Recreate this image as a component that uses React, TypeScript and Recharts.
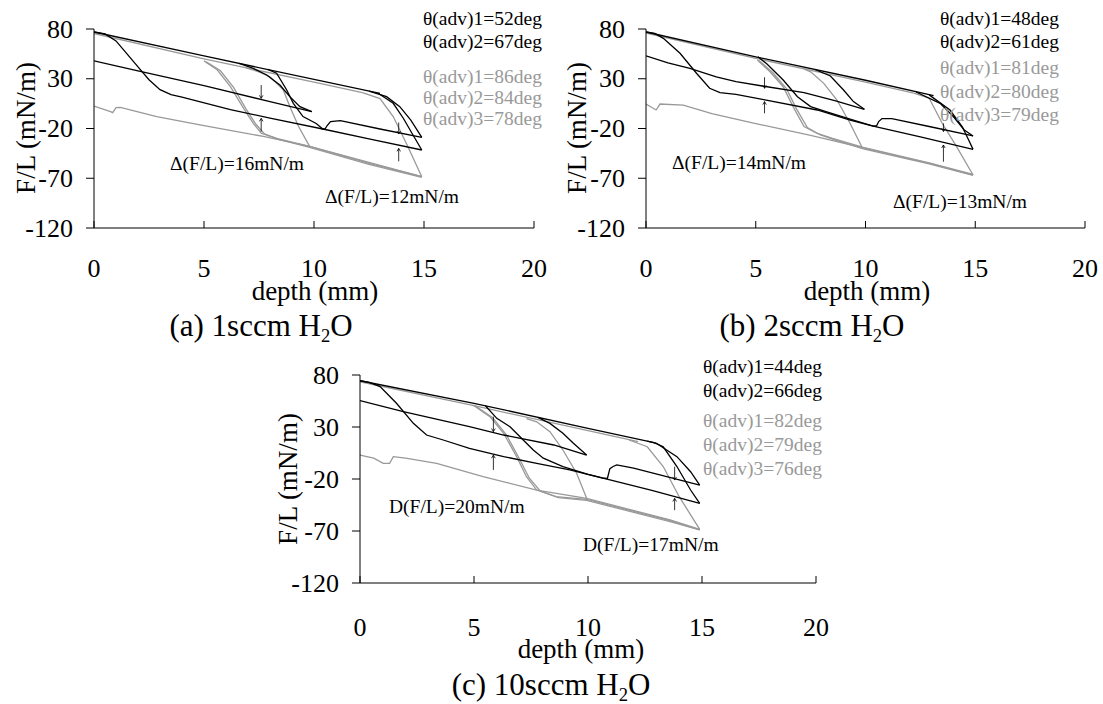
import React from 'react';
import { LineChart, Line, XAxis, YAxis, ReferenceLine } from 'recharts';

type P = [number, number];

const FONT = "'Liberation Serif', 'Times New Roman', Times, serif";
const BLACK = '#000000';
const GRAY = '#999999';

const xTicks = [0, 5, 10, 15, 20];
const yTicks = [80, 30, -20, -70, -120];

// ---------------- panel (a) 1sccm ----------------
const aBlackRec: P[] = [[0, 77], [5, 53], [10, 29.3], [13, 15.3]];
const aBlackAdv1: P[] = [[0, 48], [2, 38], [5, 23], [8, 7], [9.9, -3]];
const aBlackHair1: P[] = [[6.6, 45.5], [7.24, 40.5], [7.85, 33.8], [8.45, 23.7], [8.9, 12], [9.36, 2], [9.9, -3]];
const aBlackCycle2: P[] = [[0, 77], [0.5, 75], [1.0, 68], [1.5, 55], [2.0, 42], [2.5, 29], [3.0, 19], [3.5, 14], [4.0, 11.5], [6.2, -1], [8, -9.5], [10.4, -20.5], [12.5, -30.5], [14.9, -41.6]];
const aBlackJump: P[] = [[10.35, -20.3], [10.5, -20.5], [10.6, -17], [10.75, -13], [11.2, -12], [13, -20.5], [14.9, -29]];
const aBlackCurve2: P[] = [[7.9, 39.5], [8.3, 35.5], [8.76, 18.7], [9.06, 5.3], [9.5, -8], [10.1, -15], [10.4, -20.5]];
const aBlackHair2: P[] = [[12.5, 17.6], [13.3, 12], [13.9, 2], [14.4, -11.5], [14.9, -29]];
const aBlackHair3: P[] = [[12.9, 15.7], [13.6, 5.3], [14.06, -9.7], [14.5, -26.5], [14.9, -41.6]];
const aGrayRec: P[] = [[0, 75.5], [5, 50], [10, 26.5], [12.2, 16]];
const aGrayAdv1: P[] = [[0, 2.5], [0.75, -3], [0.85, -4], [1.0, 1], [1.2, 1.2], [2.85, -8], [5, -17], [7.7, -28], [9.8, -38], [12.5, -54], [14.9, -68.4]];
const aGrayHair1: P[] = [[6.9, 41], [7.5, 37], [8, 32], [8.6, 19], [8.9, 2], [9.3, -18], [9.8, -38]];
const aGrayTrans1: P[] = [[5, 48], [5.6, 39], [6.2, 22], [6.8, 0.3], [7.24, -14.8], [7.6, -24.8], [8.3, -30], [9.8, -38], [12.5, -55], [14.9, -68.4]];
const aGrayTrans2: P[] = [[5.1, 47], [5.75, 38], [6.35, 21], [6.9, 0], [7.35, -15.5], [7.75, -25.5], [8.4, -31], [9.8, -39], [12.5, -56], [14.9, -69]];
const aGrayHair2: P[] = [[12.2, 16], [13, 10], [13.6, -8], [14.2, -35], [14.9, -68.4]];
const aArrows: [number, number, number][] = [[7.6, 23.7, 10.3], [7.6, -23, -9.8], [13.85, -14, -25.5], [13.85, -53, -40]];
const aAngles = ['θ(adv)1=52deg', 'θ(adv)2=67deg', 'θ(adv)1=86deg', 'θ(adv)2=84deg', 'θ(adv)3=78deg'];
const aDeltas = ['Δ(F/L)=16mN/m', 'Δ(F/L)=12mN/m'];

// ---------------- panel (b) 2sccm ----------------
const bBlackRec: P[] = [[0, 77], [5, 52], [10, 28.5], [13.1, 13]];
const bBlackAdv1: P[] = [[0, 53], [1, 46], [2, 40.5], [3.2, 32], [4.1, 27], [5.3, 22.7], [7.2, 16], [8.6, 8], [9.95, -0.7]];
const bBlackHair1: P[] = [[7.7, 39.3], [8.4, 32.8], [9, 18.7], [9.45, 7], [9.95, -0.7]];
const bBlackCycle2: P[] = [[0, 77], [0.4, 75.5], [0.79, 70.6], [1.55, 55.6], [2.3, 35.5], [2.9, 20.4], [3.37, 16], [4.1, 14.3], [5.3, 9.3], [7.8, -1.4], [9.3, -11.5], [10.35, -17.5], [12.5, -28.5], [14.9, -41]];
const bBlackJump: P[] = [[10.35, -17.5], [10.5, -17.5], [10.6, -13], [10.75, -10], [11.2, -10], [12.9, -18], [14.9, -27.5]];
const bBlackCurve2: P[] = [[5.1, 52], [5.5, 45], [6.25, 28.7], [6.9, 12], [7.5, 2], [8.2, -3], [9.3, -10.5], [10.35, -17.5]];
const bBlackHair2: P[] = [[12.3, 16.7], [13.4, 5.3], [14, -8], [14.5, -21.5], [14.9, -27.5]];
const bBlackHair3: P[] = [[12.9, 13.8], [13.85, -1.4], [14.4, -18], [14.7, -31.5], [14.9, -41]];
const bGrayRec: P[] = [[0, 76], [5, 50.5], [10, 26.5], [12.2, 15.5]];
const bGrayAdv1: P[] = [[0, 4.6], [0.46, -1.4], [0.64, 4.6], [1.7, 3.5], [3, -5], [5, -15], [7.5, -27], [9.9, -39.5], [12.9, -55], [14.9, -66.7]];
const bGrayHair1: P[] = [[7.2, 40], [7.5, 37], [8.1, 25.4], [8.7, 8.6], [9.3, -15], [9.83, -38.3]];
const bGrayTrans1: P[] = [[5.07, 48.8], [5.65, 37], [6.25, 22], [6.7, 2], [7.2, -18], [7.8, -25], [8.5, -30], [9.9, -39], [12.9, -54.5], [14.9, -66]];
const bGrayTrans2: P[] = [[5.15, 48.4], [5.78, 36], [6.4, 20], [6.85, 0], [7.35, -19], [7.95, -26.5], [8.6, -31.5], [9.9, -40.5], [12.9, -55.5], [14.9, -67]];
const bGrayHair2: P[] = [[12.2, 15.5], [12.9, 10.4], [13.5, -15], [14.15, -38.3], [14.9, -66.7]];
const bArrows: [number, number, number][] = [[5.4, 31.5, 20.4], [5.4, -4.7, 7], [13.55, -14.8, -23], [13.55, -53.4, -36.6]];
const bAngles = ['θ(adv)1=48deg', 'θ(adv)2=61deg', 'θ(adv)1=81deg', 'θ(adv)2=80deg', 'θ(adv)3=79deg'];
const bDeltas = ['Δ(F/L)=14mN/m', 'Δ(F/L)=13mN/m'];

// ---------------- panel (c) 10sccm ----------------
const cBlackRec: P[] = [[0, 74.5], [5, 52.8], [10, 28.7], [12.9, 15]];
const cBlackAdv1: P[] = [[0, 55.3], [1.9, 44.7], [4.8, 30.3], [6.3, 22.3], [8.5, 12.7], [9.94, 3]];
const cBlackHair1: P[] = [[7.8, 39.3], [8.33, 33.5], [8.9, 23.9], [9.36, 14.3], [9.94, 3]];
const cBlackCycle2: P[] = [[0, 74.5], [0.4, 73], [0.88, 68.8], [1.6, 52.8], [2.34, 33.5], [2.92, 22.3], [3.65, 17.5], [4.8, 9.5], [6.3, 1.5], [7.75, -5], [9.2, -11.3], [10.7, -19.3], [12.8, -31], [14.9, -43.4]];
const cBlackJump: P[] = [[10.7, -19.3], [10.85, -19.5], [10.96, -10], [11.1, -8], [11.26, -6.5], [12, -9.5], [14.9, -25.8]];
const cBlackCurve2: P[] = [[5.5, 50.4], [6, 38.3], [6.58, 30.3], [7.16, 17.5], [7.6, 7.9], [8.04, 0], [8.9, -8], [10, -15.5], [10.7, -19.3]];
const cBlackHair2: P[] = [[12.6, 16.5], [13, 14.3], [13.9, 1.5], [14.5, -13], [14.9, -25.8]];
const cBlackHair3: P[] = [[12.9, 15], [13.3, 11], [13.9, -8], [14.5, -30.6], [14.9, -43.4]];
const cGrayRec: P[] = [[0, 73.5], [5, 50.5], [10, 26.5], [12.2, 16]];
const cGrayAdv1: P[] = [[0, 3], [0.6, 0], [1.02, -5], [1.3, -5], [1.46, 1.5], [2, 0], [3.36, -5], [5.4, -17.8], [7.75, -30.6], [9.94, -38.6], [13.6, -59.4], [14.9, -68.4]];
const cGrayHair1: P[] = [[7.3, 38], [7.75, 35], [8.33, 25.5], [8.9, 7.9], [9.5, -14.5], [9.94, -38.6]];
const cGrayTrans1: P[] = [[4.97, 51], [5.7, 40], [6.3, 23.9], [6.87, 1.5], [7.3, -17.8], [7.75, -30.6], [8.6, -37], [9.94, -39.5], [13.6, -60], [14.9, -69]];
const cGrayTrans2: P[] = [[5.05, 50.5], [5.82, 39], [6.42, 22.5], [6.98, 0], [7.42, -19], [7.9, -31.5], [8.7, -38], [9.94, -40.5], [13.6, -61], [14.9, -69]];
const cGrayHair2: P[] = [[11.8, 17.5], [12.6, 11], [13.3, -8], [14, -37], [14.9, -68.4]];
const cArrows: [number, number, number][] = [[5.85, 40, 25.5], [5.85, -11.3, 3], [13.8, -8.2, -21], [13.8, -50, -38.6]];
const cAngles = ['θ(adv)1=44deg', 'θ(adv)2=66deg', 'θ(adv)1=82deg', 'θ(adv)2=79deg', 'θ(adv)3=76deg'];
const cDeltas = ['D(F/L)=20mN/m', 'D(F/L)=17mN/m'];

const yTitle = 'F/L (mN/m)';
const xTitle = 'depth (mm)';

type Series = { key: string; color: string; pts: P[] };

const aSeries: Series[] = [
  { key: 'aGrayRec', color: GRAY, pts: aGrayRec },
  { key: 'aGrayAdv1', color: GRAY, pts: aGrayAdv1 },
  { key: 'aGrayHair1', color: GRAY, pts: aGrayHair1 },
  { key: 'aGrayTrans1', color: GRAY, pts: aGrayTrans1 },
  { key: 'aGrayTrans2', color: GRAY, pts: aGrayTrans2 },
  { key: 'aGrayHair2', color: GRAY, pts: aGrayHair2 },
  { key: 'aBlackRec', color: BLACK, pts: aBlackRec },
  { key: 'aBlackAdv1', color: BLACK, pts: aBlackAdv1 },
  { key: 'aBlackHair1', color: BLACK, pts: aBlackHair1 },
  { key: 'aBlackCycle2', color: BLACK, pts: aBlackCycle2 },
  { key: 'aBlackJump', color: BLACK, pts: aBlackJump },
  { key: 'aBlackCurve2', color: BLACK, pts: aBlackCurve2 },
  { key: 'aBlackHair2', color: BLACK, pts: aBlackHair2 },
  { key: 'aBlackHair3', color: BLACK, pts: aBlackHair3 },
];
const bSeries: Series[] = [
  { key: 'bGrayRec', color: GRAY, pts: bGrayRec },
  { key: 'bGrayAdv1', color: GRAY, pts: bGrayAdv1 },
  { key: 'bGrayHair1', color: GRAY, pts: bGrayHair1 },
  { key: 'bGrayTrans1', color: GRAY, pts: bGrayTrans1 },
  { key: 'bGrayTrans2', color: GRAY, pts: bGrayTrans2 },
  { key: 'bGrayHair2', color: GRAY, pts: bGrayHair2 },
  { key: 'bBlackRec', color: BLACK, pts: bBlackRec },
  { key: 'bBlackAdv1', color: BLACK, pts: bBlackAdv1 },
  { key: 'bBlackHair1', color: BLACK, pts: bBlackHair1 },
  { key: 'bBlackCycle2', color: BLACK, pts: bBlackCycle2 },
  { key: 'bBlackJump', color: BLACK, pts: bBlackJump },
  { key: 'bBlackCurve2', color: BLACK, pts: bBlackCurve2 },
  { key: 'bBlackHair2', color: BLACK, pts: bBlackHair2 },
  { key: 'bBlackHair3', color: BLACK, pts: bBlackHair3 },
];
const cSeries: Series[] = [
  { key: 'cGrayRec', color: GRAY, pts: cGrayRec },
  { key: 'cGrayAdv1', color: GRAY, pts: cGrayAdv1 },
  { key: 'cGrayHair1', color: GRAY, pts: cGrayHair1 },
  { key: 'cGrayTrans1', color: GRAY, pts: cGrayTrans1 },
  { key: 'cGrayTrans2', color: GRAY, pts: cGrayTrans2 },
  { key: 'cGrayHair2', color: GRAY, pts: cGrayHair2 },
  { key: 'cBlackRec', color: BLACK, pts: cBlackRec },
  { key: 'cBlackAdv1', color: BLACK, pts: cBlackAdv1 },
  { key: 'cBlackHair1', color: BLACK, pts: cBlackHair1 },
  { key: 'cBlackCycle2', color: BLACK, pts: cBlackCycle2 },
  { key: 'cBlackJump', color: BLACK, pts: cBlackJump },
  { key: 'cBlackCurve2', color: BLACK, pts: cBlackCurve2 },
  { key: 'cBlackHair2', color: BLACK, pts: cBlackHair2 },
  { key: 'cBlackHair3', color: BLACK, pts: cBlackHair3 },
];

const toXY = (pts: P[]) => pts.map(([x, y]) => ({ x, y }));

const TICK_FONT = 26;

const makeXTick = (offset: number, fontSize: number) => (props: any) => {
  const { x, y, payload } = props;
  return (
    <g>
      <line x1={x} x2={x} y1={y} y2={y - 7} stroke="#000" strokeWidth={1} />
      <text x={x} y={y + offset} textAnchor="middle" dominantBaseline="central" fontSize={fontSize} fontFamily={FONT} fill="#000">
        {payload.value}
      </text>
    </g>
  );
};

const makeYTick = (fontSize: number) => (props: any) => {
  const { x, y, payload } = props;
  return (
    <text x={x} y={y} textAnchor="end" dominantBaseline="central" fontSize={fontSize} fontFamily={FONT} fill="#000">
      {payload.value}
    </text>
  );
};

type PanelProps = {
  left: number;
  top: number;
  width: number;
  height: number;
  margin: { top: number; right: number; bottom: number; left: number };
  series: Series[];
  arrows: [number, number, number][];
  tickOffset: number;
};

function Panel({ left, top, width, height, margin, series, arrows, tickOffset }: PanelProps) {
  return (
    <div style={{ position: 'absolute', left, top }}>
      <LineChart width={width} height={height} margin={margin}>
        <XAxis
          dataKey="x"
          type="number"
          domain={[0, 20]}
          ticks={xTicks}
          interval={0}
          tickLine={false}
          tickSize={0}
          tickMargin={0}
          height={60}
          axisLine={{ stroke: '#000', strokeWidth: 1 }}
          tick={makeXTick(tickOffset, TICK_FONT)}
          allowDataOverflow
        />
        <YAxis
          type="number"
          domain={[-120, 80]}
          ticks={yTicks}
          interval={0}
          width={60}
          tickSize={8}
          tickMargin={13}
          axisLine={{ stroke: '#000', strokeWidth: 1 }}
          tickLine={{ stroke: '#000', strokeWidth: 1 }}
          tick={makeYTick(TICK_FONT)}
          allowDataOverflow
        />
        {series.map((s) => (
          <Line
            key={s.key}
            data={toXY(s.pts)}
            dataKey="y"
            type="linear"
            stroke={s.color}
            strokeWidth={1.3}
            dot={false}
            activeDot={false}
            isAnimationActive={false}
          />
        ))}
        {arrows.map(([x, from, to], i) => {
          const dir = to > from ? -1 : 1;
          return (
            <React.Fragment key={'ar' + i}>
              <ReferenceLine segment={[{ x, y: from }, { x, y: to }]} stroke="#000" strokeWidth={0.8} />
              <ReferenceLine segment={[{ x: x - 0.08, y: to + dir * 3 }, { x, y: to }]} stroke="#000" strokeWidth={0.8} />
              <ReferenceLine segment={[{ x: x + 0.08, y: to + dir * 3 }, { x, y: to }]} stroke="#000" strokeWidth={0.8} />
            </React.Fragment>
          );
        })}
      </LineChart>
    </div>
  );
}

const txt = (cx: number, cy: number, size: number, content: React.ReactNode, opts: any = {}) => (
  <div
    style={{
      position: 'absolute',
      left: cx,
      top: cy,
      transform: opts.rotate ? 'translate(-50%,-50%) rotate(-90deg)' : opts.leftAlign ? 'translateY(-50%)' : 'translate(-50%,-50%)',
      fontSize: size,
      fontFamily: FONT,
      color: opts.color || '#000',
      whiteSpace: 'nowrap',
      lineHeight: 1,
    }}
  >
    {content}
  </div>
);

const angleBlock = (left: number, ys: number[], labels: string[]) =>
  labels.map((l, i) => (
    <React.Fragment key={l + i}>{txt(left, ys[i], 19.5, l, { leftAlign: true, color: i < 2 ? '#000' : GRAY })}</React.Fragment>
  ));

const caption = (letter: string, amount: string) => (
  <span>
    ({letter}) {amount} H<span style={{ fontSize: '0.6em', position: 'relative', top: '0.3em' }}>2</span>O
  </span>
);

export default function App() {
  return (
    <div style={{ position: 'absolute', left: 0, top: 0, width: 1103, height: 704, background: '#fff', overflow: 'hidden' }}>
      <Panel left={0} top={0} width={550} height={345} margin={{ top: 29, right: 16, bottom: 57, left: 34 }} series={aSeries} arrows={aArrows} tickOffset={40} />
      <Panel left={550} top={0} width={553} height={345} margin={{ top: 29, right: 18, bottom: 57, left: 36 }} series={bSeries} arrows={bArrows} tickOffset={40} />
      <Panel left={260} top={350} width={600} height={354} margin={{ top: 25, right: 44, bottom: 61, left: 40 }} series={cSeries} arrows={cArrows} tickOffset={44} />

      {txt(26, 128, 27, yTitle, { rotate: true })}
      {txt(577, 128, 27, yTitle, { rotate: true })}
      {txt(288, 479, 27, yTitle, { rotate: true })}

      {txt(315, 291, 27, xTitle)}
      {txt(867, 291, 27, xTitle)}
      {txt(581, 649, 27, xTitle)}

      {txt(261, 325, 31, caption('a', '1sccm'))}
      {txt(812, 325, 31, caption('b', '2sccm'))}
      {txt(551, 684, 31, caption('c', '10sccm'))}

      {angleBlock(423, [19, 42, 77, 98, 119], aAngles)}
      {angleBlock(940, [19, 42, 68, 92, 115], bAngles)}
      {angleBlock(703, [367, 391, 421, 445, 469], cAngles)}

      {txt(170, 164, 19.5, aDeltas[0], { leftAlign: true })}
      {txt(325, 197, 19.5, aDeltas[1], { leftAlign: true })}
      {txt(672, 163, 19.5, bDeltas[0], { leftAlign: true })}
      {txt(893, 202, 19.5, bDeltas[1], { leftAlign: true })}
      {txt(389, 507, 19.5, cDeltas[0], { leftAlign: true })}
      {txt(583, 545, 19.5, cDeltas[1], { leftAlign: true })}
    </div>
  );
}
